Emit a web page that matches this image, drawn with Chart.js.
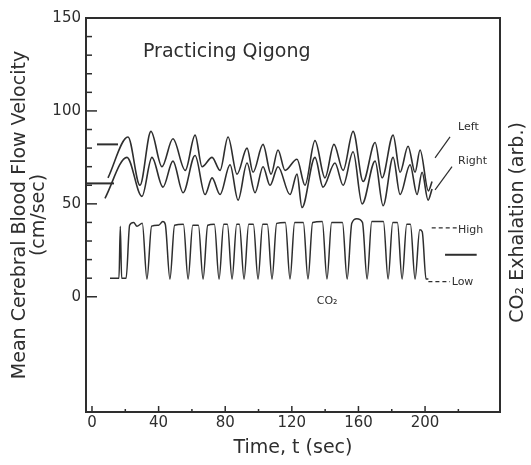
<!DOCTYPE html>
<html>
<head>
<meta charset="utf-8">
<script src="https://cdn.jsdelivr.net/npm/chart.js@4.4.0/dist/chart.umd.min.js"></script>
<style>
  body { margin: 0; background: #fff; }
  canvas { display: block; }
</style>
</head>
<body>
<canvas id="qigong" width="531" height="465"></canvas>
<script>
// values (time in sec, velocity in cm/sec)
const leftT = [9.6, 21.6, 28.8, 35.4, 42.0, 48.6, 56.0, 61.9, 66.1, 72.1, 76.9, 81.7, 87.1, 93.1, 96.7, 102.7, 107.5, 111.7, 115.9, 123.1, 127.9, 133.9, 139.9, 145.3, 150.8, 156.8, 162.8, 170.0, 174.2, 180.8, 185.0, 189.8, 194.0, 197.0, 202.0, 204.2];
const leftV = [64, 86, 60, 89, 70, 85, 68, 87, 70, 75, 68, 86, 66, 80, 67, 82, 66, 79, 68, 74, 60, 84, 64, 82, 68, 89, 62, 83, 64, 87, 67, 81, 67, 79, 57, 62];

const rightT = [7.8, 21.0, 30.0, 36.0, 42.6, 48.6, 54.7, 61.9, 67.9, 72.1, 76.9, 82.9, 87.7, 93.1, 97.9, 102.7, 106.9, 111.7, 118.9, 123.1, 126.1, 133.9, 138.7, 145.9, 150.8, 156.8, 162.2, 170.0, 174.8, 180.8, 185.0, 191.0, 195.2, 198.2, 201.8, 204.2];
const rightV = [53, 75, 54, 75, 59, 73, 56, 76, 55, 64, 55, 71, 52, 72, 56, 70, 60, 70, 55, 66, 48, 75, 59, 72, 60, 78, 50, 73, 49, 75, 55, 71, 55, 67, 52, 58];

// CO2 exhalation trace (arbitrary units, drawn on the same axis)
const co2T = [10.8, 16.2, 17.0, 17.8, 20.5, 22.6, 25.0, 27.0, 30.2, 33.0, 35.8, 40.0, 42.5, 44.0, 46.8, 49.6, 54.9, 57.7, 60.5, 63.9, 66.7, 69.5, 73.5, 76.3, 79.1, 81.3, 84.1, 86.9, 88.5, 91.3, 94.1, 96.9, 99.7, 102.5, 105.3, 108.1, 110.9, 116.1, 118.9, 121.7, 126.9, 129.7, 132.5, 138.3, 141.1, 143.9, 150.4, 153.2, 156.0, 159.0, 162.4, 165.2, 168.0, 175.0, 177.8, 180.6, 183.4, 186.2, 189.0, 191.2, 194.0, 196.8, 198.3, 200.6, 202.0];
const co2V = [10, 10, 38, 10, 10, 38.5, 40, 38, 39.5, 9.5, 38, 38.5, 40.5, 39, 9.5, 38.5, 39, 9.5, 38.5, 38.5, 9.5, 38.5, 39, 9.5, 39, 39, 9.5, 39, 39, 9.5, 39, 39, 9.5, 39, 39, 9.5, 39.5, 40, 9.5, 40, 40, 9.5, 40, 40.5, 9.5, 40, 40, 9.5, 39.5, 42, 40, 9.5, 40.5, 40.5, 9.5, 40, 40, 9.5, 39, 39, 9.5, 36, 35, 9.5, 9.5];

// resting levels marked at the left edge, and the scale bar at the right
const leftBaseT = [3.0, 15.6];
const leftBaseV = [82, 82];
const rightBaseT = [-3.6, 13.2];
const rightBaseV = [61, 61];
const barT = [212, 231];
const barV = [22.6, 22.6];

const xTicks = [0, 20, 40, 60, 80, 100, 120, 140, 160, 180, 200, 220];
const yTicks = [0, 10, 20, 30, 40, 50, 60, 70, 80, 90, 100, 110, 120, 130, 140, 150];

const ink = '#2e2e2e';
const face = 'DejaVu Sans';

function pts(ts, vs) {
  return ts.map((t, i) => ({x: t, y: vs[i]}));
}

function trace(ts, vs, width) {
  return {
    data: pts(ts, vs),
    borderColor: ink,
    borderWidth: width,
    pointRadius: 0,
    cubicInterpolationMode: 'monotone',
    fill: false
  };
}

// text that sits inside the plot, placed in data units
const notes = [
  {text: 'Practicing Qigong', t: 30.6, v: 129, size: 19, align: 'left'},
  {text: 'Left', t: 219.8, v: 89.8, size: 11, align: 'left'},
  {text: 'Right', t: 219.8, v: 71.5, size: 11, align: 'left'},
  {text: 'High', t: 219.8, v: 34.4, size: 11, align: 'left'},
  {text: 'Low', t: 216.0, v: 6.5, size: 11, align: 'left'},
  {text: 'CO\u2082', t: 141.2, v: -3.8, size: 11, align: 'center'}
];
const pointers = [[206, 74.7, 215, 86], [206, 57.5, 216.2, 70]];
const leaders = [[204, 37.1, 219, 37.1], [202, 8.1, 215, 8.1]];

const decor = {
  id: 'decor',
  afterDraw(chart) {
    const ctx = chart.ctx, x = chart.scales.x, y = chart.scales.y, a = chart.chartArea;
    ctx.save();
    ctx.strokeStyle = ink;
    ctx.lineWidth = 1.5;
    // tick marks point into the plot
    xTicks.forEach(t => {
      const px = x.getPixelForValue(t), len = t % 40 === 0 ? 6 : 3;
      ctx.beginPath(); ctx.moveTo(px, a.bottom); ctx.lineTo(px, a.bottom - len); ctx.stroke();
    });
    yTicks.forEach(v => {
      const py = y.getPixelForValue(v), len = v % 50 === 0 ? 11 : 6;
      ctx.beginPath(); ctx.moveTo(a.left, py); ctx.lineTo(a.left + len, py); ctx.stroke();
    });
    ctx.lineWidth = 1.2;
    pointers.forEach(p => {
      ctx.beginPath();
      ctx.moveTo(x.getPixelForValue(p[0]), y.getPixelForValue(p[1]));
      ctx.lineTo(x.getPixelForValue(p[2]), y.getPixelForValue(p[3]));
      ctx.stroke();
    });
    ctx.setLineDash([4, 3]);
    leaders.forEach(p => {
      ctx.beginPath();
      ctx.moveTo(x.getPixelForValue(p[0]), y.getPixelForValue(p[1]));
      ctx.lineTo(x.getPixelForValue(p[2]), y.getPixelForValue(p[3]));
      ctx.stroke();
    });
    ctx.setLineDash([]);
    ctx.fillStyle = ink;
    ctx.textBaseline = 'alphabetic';
    notes.forEach(n => {
      ctx.font = n.size + 'px "' + face + '"';
      ctx.textAlign = n.align;
      ctx.fillText(n.text, x.getPixelForValue(n.t), y.getPixelForValue(n.v));
    });
    // right-hand axis title reads bottom to top like the left one
    ctx.font = '19px "' + face + '"';
    ctx.textAlign = 'center';
    ctx.textBaseline = 'middle';
    ctx.translate(chart.width - 13, y.getPixelForValue(40));
    ctx.rotate(-Math.PI / 2);
    ctx.fillText('CO\u2082 Exhalation (arb.)', 0, 0);
    ctx.restore();
  }
};

const chart = new Chart(document.getElementById('qigong'), {
  type: 'line',
  data: {
    datasets: [
      trace(leftT, leftV, 1.6),
      trace(rightT, rightV, 1.6),
      trace(co2T, co2V, 1.5),
      trace(leftBaseT, leftBaseV, 2),
      trace(rightBaseT, rightBaseV, 2),
      trace(barT, barV, 2)
    ]
  },
  options: {
    responsive: false,
    animation: false,
    devicePixelRatio: 1,
    layout: {padding: {top: 18, left: 0, right: 0, bottom: 0}},
    plugins: {legend: {display: false}, tooltip: {enabled: false}},
    scales: {
      x: {
        type: 'linear', position: 'bottom', min: -3.6, max: 245,
        afterBuildTicks: s => { s.ticks = xTicks.map(v => ({value: v})); },
        afterFit: s => { s.height = 53; },
        ticks: {
          autoSkip: false, maxRotation: 0, padding: 2, color: ink,
          font: {family: face, size: 15},
          callback: v => (v % 40 === 0 ? String(v) : '')
        },
        grid: {drawOnChartArea: false, drawTicks: false},
        border: {color: ink, width: 2},
        title: {display: true, text: 'Time, t (sec)', color: ink,
                font: {family: face, size: 19}, padding: {top: 0, bottom: 6}}
      },
      xTop: {
        type: 'linear', position: 'top', min: -3.6, max: 245,
        afterFit: s => { s.height = 0; },
        ticks: {display: false},
        grid: {drawOnChartArea: false, drawTicks: false},
        border: {color: ink, width: 2}
      },
      y: {
        type: 'linear', position: 'left', min: -62, max: 150,
        afterBuildTicks: s => { s.ticks = yTicks.map(v => ({value: v})); },
        afterFit: s => { s.width = 86; },
        ticks: {
          autoSkip: false, padding: 5, color: ink,
          font: {family: face, size: 15},
          callback: v => (v % 50 === 0 ? String(v) : '')
        },
        grid: {drawOnChartArea: false, drawTicks: false},
        border: {color: ink, width: 2},
        title: {display: true, text: ['Mean Cerebral Blood Flow Velocity', '(cm/sec)'], color: ink,
                font: {family: face, size: 19, lineHeight: 1.0}, padding: {top: 11, bottom: 0}}
      },
      yRight: {
        type: 'linear', position: 'right', min: -62, max: 150,
        afterFit: s => { s.width = 31; },
        ticks: {display: false},
        grid: {drawOnChartArea: false, drawTicks: false},
        border: {color: ink, width: 2}
      }
    }
  },
  plugins: [decor]
});
</script>
</body>
</html>
